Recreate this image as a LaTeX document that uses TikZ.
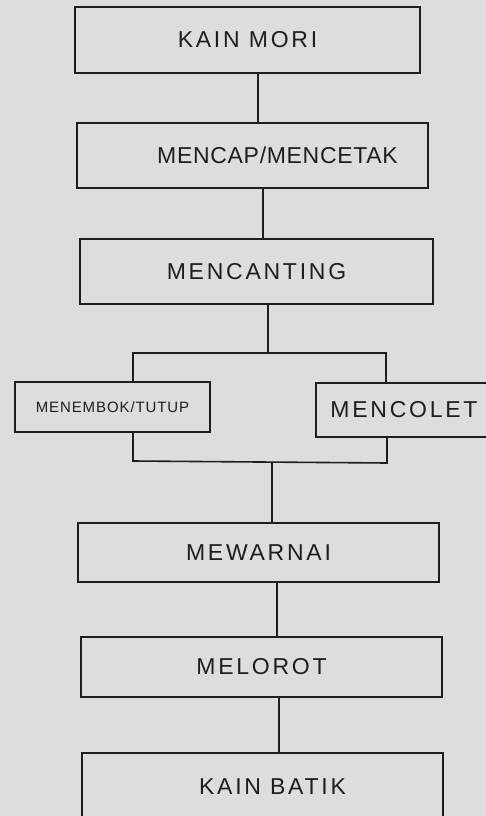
\documentclass[tikz,border=0pt]{standalone}
\usepackage{fontspec}
\setmainfont{Liberation Sans}
\usepackage{tikz}
\usetikzlibrary{calc}

\definecolor{kertas}{RGB}{221,221,223}
\definecolor{tinta}{RGB}{30,30,32}

\begin{document}
\begin{tikzpicture}[x=1pt, y=-1pt,
            tahap/.style={draw=tinta, line width=1.6pt, inner sep=0pt, text=tinta,
                font=\fontsize{23}{25}\selectfont\addfontfeatures{LetterSpace=12}},
            rapat/.style={font=\fontsize{23}{25}\selectfont\addfontfeatures{LetterSpace=3}},
            cabang/.style={tahap, font=\fontsize{15}{17}\selectfont\addfontfeatures{LetterSpace=6}},
            garis/.style={draw=tinta, line width=1.6pt}]
            \fill[kertas] (0,0) rectangle (486,816);
            \useasboundingbox (0,0) rectangle (486,816);
            \node[tahap, minimum width=345pt, minimum height=66pt] (mori) at (247.5,40) {KAIN MORI};
            \node[tahap, rapat, minimum width=351pt, minimum height=65pt] (mencap) at (252.5,155.5) {\hspace*{50pt}MENCAP/MENCETAK};
            \node[tahap, minimum width=353pt, minimum height=65pt] (canting) at (256.5,271.5) {MENCANTING};
            \node[cabang, minimum width=195pt, minimum height=50pt] (tutup) at (112.5,407) {MENEMBOK/TUTUP};
            \node[tahap, minimum width=176pt, minimum height=54pt] (colet) at (404,410) {MENCOLET};
            \node[tahap, minimum width=361pt, minimum height=59pt] (warnai) at (258.5,552.5) {MEWARNAI};
            \node[tahap, minimum width=361pt, minimum height=60pt] (melorot) at (261.5,667) {MELOROT};
            \node[tahap, minimum width=361pt, minimum height=67pt] (batik) at (262.5,786.5) {\hspace*{20pt}KAIN BATIK};
            \coordinate (bagi) at (268,353);
            \coordinate (bagiL) at (133,353);
            \coordinate (bagiR) at (386,353);
            \coordinate (gabung) at (272,462);
            \coordinate (gabungL) at (133,461);
            \coordinate (gabungR) at (387,463);
            \draw[garis] ([xshift=10.5pt]mori.south) -- ([xshift=10.5pt]mori.south |- mencap.north);
            \draw[garis] ([xshift=10.5pt]mencap.south) -- ([xshift=10.5pt]mencap.south |- canting.north);
            \draw[garis] (bagi |- canting.south) -- (bagi);
            \draw[garis] (tutup.north -| bagiL) -- (bagiL) -- (bagiR) -- (colet.north -| bagiR);
            \draw[garis] (tutup.south -| gabungL) -- (gabungL) -- (gabungR) -- (colet.south -| gabungR);
            \draw[garis] (gabung) -- (gabung |- warnai.north);
            \draw[garis] ([xshift=18.5pt]warnai.south) -- ([xshift=18.5pt]warnai.south |- melorot.north);
            \draw[garis] ([xshift=17.5pt]melorot.south) -- ([xshift=17.5pt]melorot.south |- batik.north);
        \end{tikzpicture}
\end{document}
